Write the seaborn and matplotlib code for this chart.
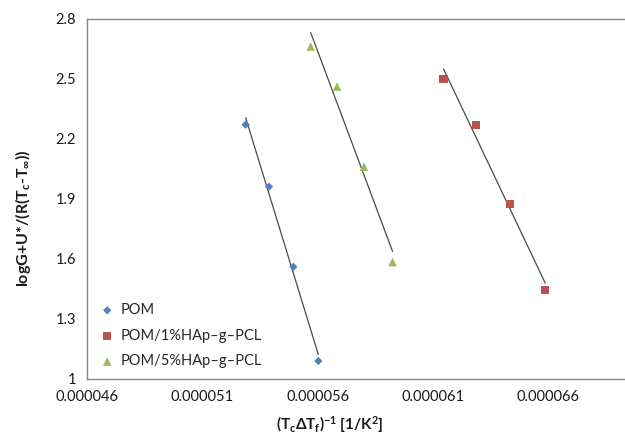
import numpy as np
import pandas as pd
import matplotlib
matplotlib.use("Agg")
import matplotlib.pyplot as plt
import seaborn as sns

# Data
series_names = ["POM", "POM/1%HAp\u2013g\u2013PCL", "POM/5%HAp\u2013g\u2013PCL"]
pom_x = [5.288e-5, 5.389e-5, 5.495e-5, 5.603e-5]
pom_y = [2.27, 1.96, 1.56, 1.09]
hap1_x = [6.146e-5, 6.285e-5, 6.433e-5, 6.587e-5]
hap1_y = [2.50, 2.27, 1.876, 1.445]
hap5_x = [5.570e-5, 5.684e-5, 5.801e-5, 5.925e-5]
hap5_y = [2.66, 2.46, 2.06, 1.584]

x_ticks = [0.000046, 0.000051, 0.000056, 0.000061, 0.000066]
x_tick_labels = ["0.000046", "0.000051", "0.000056", "0.000061", "0.000066"]
y_ticks = [1.0, 1.3, 1.6, 1.9, 2.2, 2.5, 2.8]
y_tick_labels = ["1", "1.3", "1.6", "1.9", "2.2", "2.5", "2.8"]

colors = {series_names[0]: "#4F81BD", series_names[1]: "#C0504D", series_names[2]: "#9BBB59"}
markers = {series_names[0]: "D", series_names[1]: "s", series_names[2]: "^"}
sizes = {series_names[0]: 18, series_names[1]: 34, series_names[2]: 38}

df = pd.concat([
    pd.DataFrame({"x": pom_x, "y": pom_y, "series": series_names[0]}),
    pd.DataFrame({"x": hap1_x, "y": hap1_y, "series": series_names[1]}),
    pd.DataFrame({"x": hap5_x, "y": hap5_y, "series": series_names[2]}),
], ignore_index=True)

sns.set_style("white")
plt.rcParams["font.family"] = ["Lato", "DejaVu Sans"]
plt.rcParams["mathtext.fontset"] = "custom"
plt.rcParams["mathtext.rm"] = "Lato:bold"
plt.rcParams["mathtext.it"] = "Lato:bold"
plt.rcParams["mathtext.bf"] = "Lato:bold"

fig = plt.figure(figsize=(6.25, 4.41), dpi=100)
ax = fig.add_axes([87 / 625, 1 - 379 / 441, 1 - 87 / 625 + 0.01, (379 - 18.5) / 441])

for name in series_names:
    sub = df[df["series"] == name]
    sns.regplot(data=sub, x="x", y="y", scatter=False, ci=None, truncate=True,
                color="#4a4a4a", line_kws={"linewidth": 0.9}, ax=ax)

for name in series_names:
    sub = df[df["series"] == name]
    sns.scatterplot(data=sub, x="x", y="y", marker=markers[name], s=sizes[name],
                    color=colors[name], edgecolor="none", label=name, ax=ax, zorder=3)

ax.set_xlim(0.000046, 0.0000696)
ax.set_ylim(1.0, 2.8)
ax.set_xticks(x_ticks)
ax.set_xticklabels(x_tick_labels, fontsize=10.5, color="#1a1a1a")
ax.set_yticks(y_ticks)
ax.set_yticklabels(y_tick_labels, fontsize=10.5, color="#1a1a1a")
ax.tick_params(axis="both", direction="out", length=5, width=1, color="#868686", pad=3)

for side in ["left", "bottom", "top"]:
    ax.spines[side].set_visible(True)
    ax.spines[side].set_color("#868686")
    ax.spines[side].set_linewidth(1)
ax.spines["right"].set_visible(False)
ax.grid(False)

ax.set_xlabel(r"(T$_\mathrm{c}$$\Delta$T$_\mathrm{f}$)$^\mathrm{-1}$ [1/K$^\mathrm{2}$]",
              fontsize=11, fontweight="bold", color="#1a1a1a")
ax.set_ylabel(r"logG+U*/(R(T$_\mathrm{c}$-T$_\mathrm{\infty}$))",
              fontsize=11.5, fontweight="bold", color="#1a1a1a")
ax.xaxis.set_label_coords(0.446, -0.098)
ax.yaxis.set_label_coords(-0.100, 0.445)

leg = ax.legend(loc="lower left", bbox_to_anchor=(0.005, 0.005), frameon=False,
                fontsize=10.5, handletextpad=0.3, labelspacing=0.8, handlelength=1.2,
                borderaxespad=0.2)

fig.savefig("out.png", dpi=100)
